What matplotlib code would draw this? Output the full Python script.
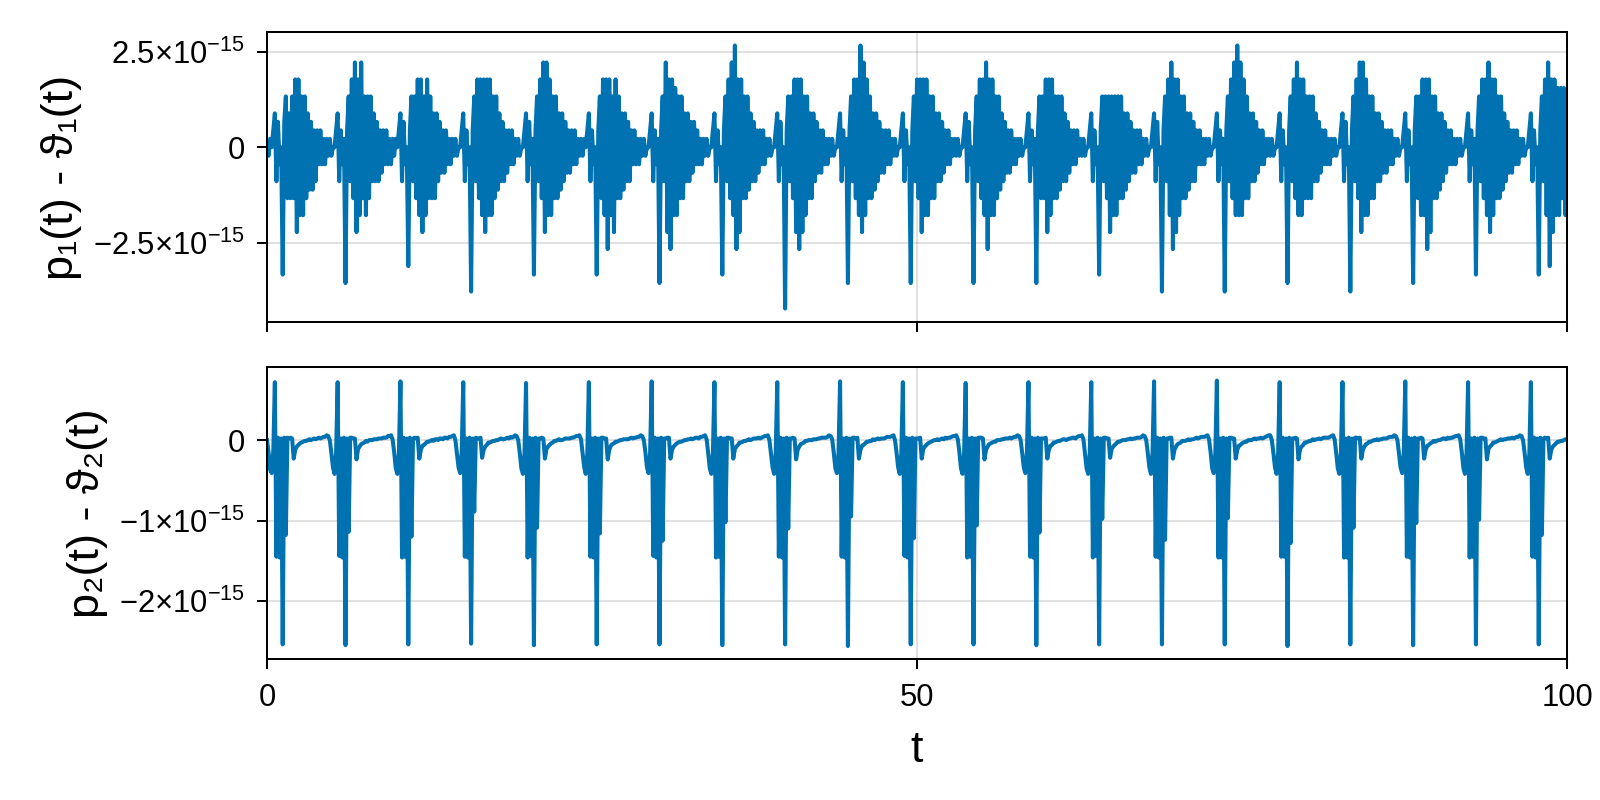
import matplotlib
matplotlib.use('Agg')
import matplotlib.pyplot as plt
import numpy as np

# p1(t) - theta1(t), in units of machine epsilon (the values sit on the float grid).
# one row per orbit (~4.83 time units), first row is the tail of the orbit before t=0
p1_diff_eps = [
    0, -1, 1, 0, 2,
    4, -4, 3, -2, 0, -15, 3, 6, -6, 4, -6, 6, -6, 8, -10, 8, -8, 6, -8, 6, -6, 4, -5, 3, -5, 2, -4, 2, -2, 2, -2, 1, -2, 1, -1, 1, -1, 0, 0, 2,
    4, -4, 2, -2, 1, -16, 2, 6, -4, 8, -6, 10, -10, 8, -8, 10, -6, 6, -8, 6, -6, 6, -4, 4, -4, 3, -4, 2, -3, 2, -2, 2, -2, 1, -2, 1, -1, 1, 0, 2,
    4, -4, 3, -2, 0, -14, 2, 6, -4, 6, -6, 8, -8, 8, -10, 6, -8, 8, -6, 6, -6, 4, -6, 4, -4, 3, -3, 2, -3, 2, -2, 1, -2, 1, -1, 1, -1, 0, 0, 2,
    4, -4, 2, -2, 0, -17, 2, 6, -4, 8, -6, 8, -8, 8, -10, 8, -8, 8, -8, 6, -6, 6, -5, 4, -4, 3, -4, 2, -3, 2, -2, 2, -2, 1, -1, 1, -1, 0, 0, 2,
    4, -4, 3, -2, 1, -15, 2, 6, -4, 8, -6, 10, -10, 10, -8, 8, -8, 6, -6, 6, -6, 4, -5, 4, -4, 3, -3, 2, -3, 2, -2, 2, -2, 1, -1, 1, -1, 1, 0, 2,
    4, -4, 2, -2, 0, -15, 2, 6, -6, 8, -8, 8, -12, 8, -8, 6, -10, 8, -6, 6, -6, 4, -5, 4, -4, 3, -4, 2, -2, 2, -2, 1, -2, 1, -1, 1, -1, 0, 0, 2,
    4, -4, 2, -2, 1, -16, 2, 6, -4, 10, -10, 8, -12, 8, -8, 7, -8, 6, -6, 6, -6, 4, -4, 4, -4, 3, -3, 3, -2, 2, -2, 1, -2, 1, -1, 1, -1, 0, 0, 2,
    4, -4, 2, -2, 0, -15, 2, 6, -4, 8, -6, 10, -8, 12, -12, 8, -10, 8, -6, 6, -6, 6, -5, 4, -4, 3, -4, 2, -3, 2, -2, 2, -2, 1, -1, 1, -1, 0, 0, 2,
    4, -4, 3, -2, 0, -19, 2, 6, -4, 6, -6, 8, -10, 8, -12, 8, -10, 6, -8, 6, -6, 4, -6, 4, -4, 3, -3, 2, -3, 2, -2, 1, -2, 1, -1, 1, -1, 0, 0, 2,
    4, -4, 2, -2, 1, -16, 2, 6, -4, 8, -6, 8, -8, 12, -10, 10, -8, 8, -6, 6, -6, 4, -5, 4, -4, 3, -3, 2, -3, 2, -2, 2, -2, 1, -1, 1, -1, 0, 0, 2,
    4, -4, 2, -2, 0, -16, 2, 6, -4, 8, -6, 8, -10, 8, -8, 8, -8, 6, -6, 6, -6, 4, -4, 4, -4, 3, -3, 2, -2, 2, -2, 1, -1, 1, -1, 1, -1, 0, 0, 2,
    4, -4, 3, -2, 0, -16, 2, 6, -4, 8, -6, 8, -8, 10, -12, 8, -8, 8, -8, 6, -6, 6, -5, 4, -4, 3, -3, 2, -3, 2, -2, 1, -2, 1, -1, 1, -1, 0, 0, 2,
    4, -4, 2, -2, 1, -16, 2, 6, -6, 6, -6, 8, -10, 8, -8, 8, -6, 6, -6, 6, -5, 6, -4, 4, -4, 3, -3, 2, -2, 2, -2, 2, -1, 1, -1, 1, -1, 0, 0, 2,
    4, -4, 2, -2, 0, -15, 2, 6, -4, 6, -6, 6, -10, 6, -8, 6, -8, 6, -6, 6, -6, 4, -5, 4, -4, 3, -3, 2, -3, 2, -2, 2, -2, 1, -1, 1, -1, 0, 0, 2,
    4, -4, 3, -2, 0, -17, 2, 6, -4, 8, -8, 10, -12, 8, -10, 8, -8, 6, -6, 6, -6, 4, -5, 4, -4, 3, -4, 2, -2, 2, -2, 1, -2, 1, -1, 1, -1, 0, 0, 2,
    4, -4, 2, -2, 1, -17, 2, 6, -4, 8, -6, 10, -8, 12, -8, 10, -8, 8, -6, 6, -6, 4, -4, 4, -4, 3, -3, 2, -2, 2, -2, 1, -1, 1, -1, 1, -1, 0, 0, 2,
    4, -4, 2, -2, 0, -16, 2, 6, -4, 8, -6, 10, -8, 8, -8, 8, -6, 6, -6, 6, -6, 6, -4, 4, -4, 3, -3, 2, -2, 2, -2, 1, -2, 1, -1, 1, -1, 0, 0, 2,
    4, -4, 3, -2, 0, -17, 2, 6, -4, 8, -6, 10, -10, 10, -8, 8, -8, 6, -6, 6, -6, 4, -4, 4, -4, 3, -3, 2, -3, 2, -2, 2, -2, 1, -1, 1, -1, 0, 0, 2,
    4, -4, 2, -2, 0, -16, 2, 6, -6, 6, -8, 8, -8, 8, -12, 8, -10, 6, -6, 6, -6, 4, -5, 4, -4, 3, -3, 2, -2, 2, -2, 1, -2, 1, -1, 1, -1, 0, 0, 2,
    4, -4, 2, -2, 1, -15, 2, 6, -4, 8, -6, 8, -8, 10, -10, 8, -8, 8, -6, 6, -6, 6, -5, 4, -4, 3, -3, 2, -3, 2, -2, 2, -2, 1, -1, 1, -1, 0, 0, 2,
    4, -4, 2, -2, 0, -15, 2, 6, -4, 8, -8, 10, -14, 8, -10, 8, -8, 7, -8, 7, -6, 7, -8, 6,
]

# p2(t) - theta2(t), in units of 1e-16, same sampling as above
p2_diff_e16 = [
    0.0, -1.5, -3.7, -4.1, -1.4,
    7.2, -14.5, 0.3, -14.6, 0.2, -25.4, 0.3, -11.8, 0.3, 0.2, 0.3, 0.2, -2.3, -1.2, -0.8, -0.6, -0.4, -0.3, -0.2, -0.1, -0.1, 0.0, 0.1, 0.0, 0.1, 0.2, 0.1, 0.2, 0.3, 0.2, 0.3, 0.4, 0.4, 0.6, 0.5, 0.0, -1.6, -3.4, -4.2, -1.6,
    7.2, -14.4, 0.2, -14.6, 0.3, -25.5, 0.2, -11.4, 0.3, 0.3, 0.2, 0.2, -2.4, -1.1, -0.8, -0.5, -0.4, -0.3, -0.1, -0.2, 0.0, 0.0, 0.0, 0.1, 0.1, 0.1, 0.2, 0.2, 0.2, 0.3, 0.3, 0.3, 0.5, 0.5, 0.6, 0.1, -1.5, -3.5, -4.2, -1.7,
    7.3, -14.6, 0.3, -14.5, 0.2, -25.4, 0.3, -12.0, 0.2, 0.3, 0.2, 0.3, -2.3, -1.2, -0.7, -0.6, -0.4, -0.2, -0.2, -0.1, 0.0, -0.1, 0.1, 0.1, 0.0, 0.2, 0.2, 0.1, 0.3, 0.3, 0.2, 0.4, 0.4, 0.5, 0.6, 0.0, -1.7, -3.4, -4.1, -1.5,
    7.2, -14.5, 0.2, -14.6, 0.3, -25.3, 0.2, -8.9, 0.3, 0.2, 0.2, 0.3, -2.2, -1.2, -0.8, -0.6, -0.3, -0.3, -0.2, -0.1, -0.1, 0.0, 0.0, 0.1, 0.2, 0.1, 0.1, 0.2, 0.3, 0.2, 0.4, 0.3, 0.4, 0.6, 0.5, 0.0, -1.6, -3.5, -4.2, -1.6,
    7.1, -14.6, 0.3, -14.4, 0.2, -25.5, 0.3, -10.9, 0.2, 0.2, 0.3, 0.2, -2.3, -1.1, -0.8, -0.6, -0.4, -0.3, -0.1, -0.1, 0.0, 0.1, 0.0, 0.0, 0.1, 0.2, 0.2, 0.2, 0.2, 0.3, 0.3, 0.4, 0.5, 0.5, 0.6, 0.1, -1.6, -3.3, -4.2, -1.7,
    7.2, -14.5, 0.2, -14.6, 0.3, -25.4, 0.2, -11.6, 0.3, 0.3, 0.2, 0.2, -2.4, -1.2, -0.7, -0.5, -0.4, -0.2, -0.2, -0.1, 0.0, 0.0, 0.1, 0.1, 0.1, 0.1, 0.2, 0.3, 0.2, 0.3, 0.3, 0.4, 0.4, 0.6, 0.5, 0.0, -1.5, -3.4, -4.1, -1.6,
    7.3, -14.4, 0.3, -14.6, 0.2, -25.4, 0.3, -12.5, 0.2, 0.2, 0.3, 0.3, -2.3, -1.2, -0.8, -0.6, -0.4, -0.3, -0.2, -0.2, -0.1, 0.0, 0.0, 0.1, 0.1, 0.2, 0.1, 0.2, 0.3, 0.3, 0.2, 0.4, 0.4, 0.5, 0.6, 0.1, -1.6, -3.5, -4.2, -1.6,
    7.2, -14.6, 0.2, -14.5, 0.3, -25.5, 0.2, -10.2, 0.3, 0.3, 0.2, 0.2, -2.3, -1.1, -0.8, -0.6, -0.3, -0.3, -0.2, -0.1, -0.1, 0.0, 0.1, 0.0, 0.1, 0.2, 0.2, 0.2, 0.3, 0.2, 0.3, 0.4, 0.5, 0.5, 0.6, 0.0, -1.7, -3.4, -4.2, -1.5,
    7.2, -14.5, 0.3, -14.6, 0.2, -25.4, 0.3, -11.0, 0.2, 0.2, 0.3, 0.2, -2.4, -1.2, -0.8, -0.5, -0.4, -0.3, -0.1, -0.1, 0.0, 0.0, 0.0, 0.1, 0.1, 0.1, 0.2, 0.2, 0.3, 0.3, 0.3, 0.3, 0.4, 0.6, 0.5, 0.1, -1.6, -3.5, -4.1, -1.6,
    7.3, -14.5, 0.2, -14.6, 0.3, -25.6, 0.2, -9.5, 0.3, 0.3, 0.2, 0.3, -2.3, -1.2, -0.7, -0.6, -0.4, -0.2, -0.2, -0.1, -0.1, 0.1, 0.0, 0.1, 0.2, 0.1, 0.2, 0.2, 0.2, 0.3, 0.4, 0.4, 0.4, 0.5, 0.6, 0.0, -1.6, -3.4, -4.2, -1.7,
    7.2, -14.4, 0.3, -14.6, 0.2, -25.4, 0.3, -12.2, 0.2, 0.2, 0.2, 0.3, -2.3, -1.1, -0.8, -0.6, -0.4, -0.3, -0.2, -0.1, 0.0, 0.0, 0.1, 0.0, 0.1, 0.2, 0.1, 0.3, 0.2, 0.3, 0.3, 0.4, 0.5, 0.5, 0.6, 0.1, -1.5, -3.5, -4.2, -1.6,
    7.1, -14.6, 0.2, -14.5, 0.3, -25.4, 0.2, -10.6, 0.3, 0.3, 0.3, 0.2, -2.4, -1.2, -0.8, -0.5, -0.4, -0.3, -0.2, -0.2, 0.0, 0.0, 0.0, 0.1, 0.1, 0.2, 0.2, 0.2, 0.3, 0.2, 0.3, 0.4, 0.4, 0.6, 0.5, 0.0, -1.6, -3.4, -4.1, -1.5,
    7.2, -14.5, 0.3, -14.6, 0.2, -25.5, 0.3, -11.5, 0.2, 0.2, 0.2, 0.3, -2.3, -1.2, -0.7, -0.6, -0.3, -0.3, -0.2, -0.1, -0.1, 0.0, 0.1, 0.1, 0.0, 0.1, 0.2, 0.2, 0.3, 0.3, 0.2, 0.4, 0.5, 0.5, 0.6, 0.1, -1.7, -3.5, -4.2, -1.6,
    7.2, -14.6, 0.2, -14.4, 0.3, -25.4, 0.2, -9.8, 0.3, 0.3, 0.2, 0.2, -2.2, -1.1, -0.8, -0.6, -0.4, -0.2, -0.2, -0.1, 0.0, 0.0, 0.0, 0.1, 0.1, 0.2, 0.1, 0.2, 0.2, 0.3, 0.3, 0.3, 0.4, 0.6, 0.5, 0.0, -1.6, -3.4, -4.2, -1.6,
    7.3, -14.5, 0.3, -14.6, 0.2, -25.4, 0.3, -12.4, 0.2, 0.2, 0.3, 0.3, -2.3, -1.2, -0.8, -0.5, -0.4, -0.3, -0.1, -0.1, -0.1, 0.0, 0.1, 0.0, 0.1, 0.1, 0.2, 0.3, 0.2, 0.3, 0.4, 0.4, 0.4, 0.5, 0.6, 0.1, -1.5, -3.5, -4.1, -1.7,
    7.4, -14.6, 0.2, -14.6, 0.3, -25.4, 0.2, -9.7, 0.3, 0.3, 0.2, 0.2, -2.3, -1.2, -0.7, -0.6, -0.4, -0.3, -0.2, -0.2, 0.0, 0.0, 0.0, 0.1, 0.2, 0.1, 0.2, 0.2, 0.3, 0.2, 0.3, 0.4, 0.5, 0.6, 0.6, 0.0, -1.6, -3.4, -4.2, -1.6,
    7.2, -14.5, 0.3, -14.5, 0.2, -25.6, 0.3, -12.8, 0.2, 0.2, 0.3, 0.2, -2.4, -1.1, -0.8, -0.6, -0.3, -0.3, -0.2, -0.1, -0.1, 0.1, 0.0, 0.1, 0.1, 0.2, 0.1, 0.2, 0.3, 0.3, 0.3, 0.3, 0.4, 0.5, 0.6, 0.1, -1.6, -3.5, -4.2, -1.5,
    7.2, -14.6, 0.2, -14.6, 0.3, -25.4, 0.2, -10.9, 0.3, 0.3, 0.2, 0.3, -2.3, -1.2, -0.8, -0.5, -0.4, -0.2, -0.2, -0.1, 0.0, 0.0, 0.1, 0.0, 0.1, 0.1, 0.2, 0.2, 0.2, 0.3, 0.4, 0.4, 0.4, 0.6, 0.5, 0.0, -1.7, -3.4, -4.1, -1.6,
    7.3, -14.5, 0.3, -14.6, 0.2, -25.5, 0.3, -10.3, 0.2, 0.2, 0.3, 0.2, -2.3, -1.2, -0.7, -0.6, -0.4, -0.3, -0.1, -0.2, -0.1, 0.0, 0.0, 0.1, 0.2, 0.2, 0.1, 0.3, 0.2, 0.3, 0.3, 0.4, 0.5, 0.5, 0.6, 0.1, -1.5, -3.5, -4.2, -1.6,
    7.2, -14.6, 0.2, -14.5, 0.3, -25.4, 0.2, -9.9, 0.3, 0.3, 0.2, 0.2, -2.4, -1.1, -0.8, -0.6, -0.3, -0.3, -0.2, -0.1, 0.0, 0.1, 0.0, 0.1, 0.1, 0.2, 0.2, 0.2, 0.3, 0.2, 0.3, 0.4, 0.4, 0.6, 0.5, 0.0, -1.6, -3.4, -4.2, -1.7,
    7.2, -14.5, 0.3, -14.6, 0.2, -25.4, 0.3, -11.8, 0.2, 0.3, 0.2, 0.3, -2.3, -1.2, -0.8, -0.6, -0.4, -0.2, -0.2, -0.1, -0.1, 0.0, 0.1, 0.1,
]

t_range = (0, 100)
x_ticks = [0, 50, 100]
p1_ticks = [-2.5e-15, 0, 2.5e-15]
p1_tick_labels = [r'$-2.5{\times}10^{-15}$', '0', r'$2.5{\times}10^{-15}$']
p2_ticks = [-2e-15, -1e-15, 0]
p2_tick_labels = [r'$-2{\times}10^{-15}$', r'$-1{\times}10^{-15}$', '0']
p1_label = 'p₁(t) - ϑ₁(t)'
p2_label = 'p₂(t) - ϑ₂(t)'
x_label = 't'

LINE_COLOR = '#0072B2'
FONTS = ['Liberation Sans', 'DejaVu Sans']


def style_axis(ax, yticks, yticklabels, ylabel, show_x_labels):
    ax.set_xlim(*t_range)
    ax.margins(x=0, y=0.05)
    ax.set_xticks(x_ticks)
    ax.set_yticks(yticks)
    ax.set_yticklabels(yticklabels)
    ax.grid(True, color='black', alpha=0.12, linewidth=1.4)
    ax.set_axisbelow(True)
    for spine in ax.spines.values():
        spine.set_linewidth(1.45)
    ax.tick_params(axis='both', direction='out', length=7.2, width=1.45, labelsize=22.3)
    ax.tick_params(axis='y', pad=8.5)
    ax.tick_params(axis='x', pad=10, labelbottom=show_x_labels)
    ax.set_ylabel(ylabel, fontsize=32.5, labelpad=8, family=FONTS)


def create_chart(filename: str) -> str:
    plt.rcParams['font.family'] = FONTS
    plt.rcParams['mathtext.fontset'] = 'custom'
    plt.rcParams['mathtext.rm'] = 'Liberation Sans'
    plt.rcParams['mathtext.it'] = 'Liberation Sans'
    plt.rcParams['mathtext.default'] = 'regular'

    assert len(p1_diff_eps) == len(p2_diff_e16)
    t = np.linspace(t_range[0], t_range[1], len(p1_diff_eps))
    p1 = np.array(p1_diff_eps) * np.finfo(float).eps
    p2 = np.array(p2_diff_e16) * 1e-16

    fig = plt.figure(figsize=(16, 8), dpi=100)
    ax1 = fig.add_axes([267 / 1600, 1 - 321.7 / 800, 1300 / 1600, 289.4 / 800])
    ax2 = fig.add_axes([267 / 1600, 1 - 659.3 / 800, 1300 / 1600, 292.0 / 800])

    ax1.plot(t, p1, color=LINE_COLOR, linewidth=2.9)
    ax2.plot(t, p2, color=LINE_COLOR, linewidth=2.9)

    style_axis(ax1, p1_ticks, p1_tick_labels, p1_label, False)
    style_axis(ax2, p2_ticks, p2_tick_labels, p2_label, True)
    ax2.set_xlabel(x_label, fontsize=32.5, labelpad=12)

    fig.savefig(filename, dpi=100, facecolor='white')
    return filename


if __name__ == '__main__':
    create_chart('out.png')
